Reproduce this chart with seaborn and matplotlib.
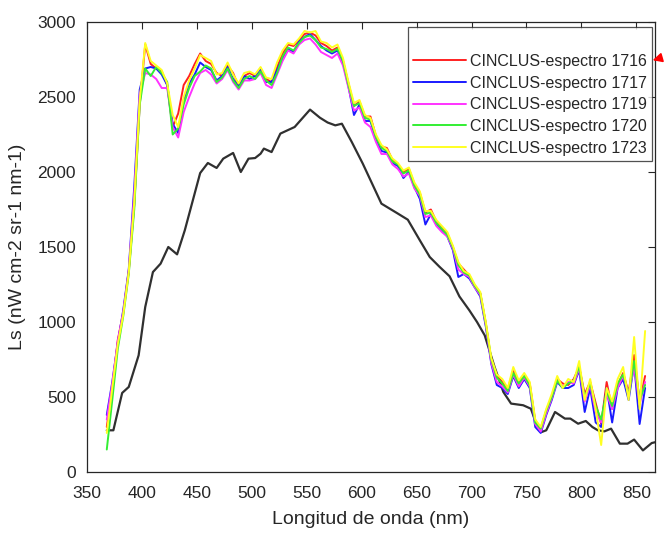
import matplotlib
matplotlib.use("Agg")
import matplotlib.pyplot as plt
import seaborn as sns
import pandas as pd

# -------------------------------
# Datos
# -------------------------------
wavelength = [368, 373, 378, 383, 388, 393, 398, 403, 408, 413, 418, 423, 428, 433, 438,
              443, 448, 453, 458, 463, 468, 473, 478, 483, 488, 493, 498, 503, 508, 513,
              518, 523, 528, 533, 538, 543, 548, 553, 558, 563, 568, 573, 578, 583, 588,
              593, 598, 603, 608, 613, 618, 623, 628, 633, 638, 643, 648, 653, 658, 663,
              668, 673, 678, 683, 688, 693, 698, 703, 708, 713, 718, 723, 728, 733, 738,
              743, 748, 753, 758, 763, 768, 773, 778, 783, 788, 793, 798, 803, 808, 813,
              818, 823, 828, 833, 838, 843, 848, 853, 858]

esp_1716 = [300, 560, 880, 1060, 1340, 1780, 2450, 2850, 2720, 2690, 2670, 2580, 2300, 2390, 2580,
            2640, 2720, 2790, 2740, 2720, 2660, 2640, 2710, 2660, 2570, 2640, 2660, 2640, 2690, 2620,
            2600, 2700, 2790, 2850, 2840, 2880, 2920, 2930, 2910, 2860, 2840, 2810, 2830, 2740, 2590,
            2440, 2470, 2370, 2370, 2240, 2170, 2160, 2080, 2050, 2000, 2020, 1920, 1860, 1730, 1750,
            1670, 1630, 1590, 1500, 1390, 1350, 1310, 1240, 1190, 990, 740, 640, 600, 550, 680,
            600, 640, 590, 340, 280, 400, 500, 620, 590, 580, 620, 700, 520, 600, 460,
            320, 600, 420, 580, 660, 530, 780, 470, 640]

esp_1717 = [380, 600, 860, 1080, 1350, 1900, 2550, 2690, 2700, 2690, 2650, 2580, 2320, 2260, 2480,
            2590, 2650, 2730, 2700, 2680, 2610, 2640, 2700, 2620, 2570, 2640, 2620, 2640, 2690, 2600,
            2600, 2680, 2760, 2820, 2800, 2870, 2900, 2920, 2880, 2840, 2810, 2790, 2810, 2730, 2570,
            2380, 2450, 2340, 2340, 2220, 2140, 2130, 2060, 2040, 1960, 2000, 1900, 1820, 1650, 1720,
            1650, 1610, 1570, 1480, 1300, 1320, 1290, 1230, 1170, 970, 720, 580, 560, 520, 640,
            560, 620, 560, 300, 260, 380, 480, 600, 560, 560, 580, 680, 400, 560, 330,
            300, 560, 330, 560, 620, 480, 720, 320, 560]

esp_1719 = [350, 590, 870, 1070, 1340, 1850, 2520, 2660, 2650, 2620, 2560, 2560, 2300, 2230, 2400,
            2500, 2590, 2660, 2680, 2650, 2590, 2620, 2680, 2600, 2550, 2610, 2610, 2620, 2660, 2580,
            2560, 2650, 2740, 2810, 2790, 2850, 2880, 2890, 2850, 2800, 2780, 2760, 2790, 2710, 2560,
            2410, 2430, 2330, 2300, 2200, 2120, 2120, 2050, 2020, 1970, 1990, 1890, 1840, 1700, 1710,
            1640, 1600, 1570, 1490, 1350, 1320, 1300, 1230, 1180, 980, 730, 600, 570, 530, 650,
            570, 630, 570, 320, 270, 390, 490, 610, 570, 600, 590, 690, 470, 580, 400,
            330, 520, 420, 560, 640, 520, 700, 450, 600]

esp_1720 = [150, 480, 820, 1040, 1320, 1750, 2450, 2690, 2640, 2700, 2660, 2600, 2250, 2290, 2450,
            2560, 2640, 2670, 2710, 2690, 2600, 2630, 2690, 2610, 2560, 2620, 2640, 2620, 2670, 2610,
            2580, 2660, 2770, 2830, 2810, 2860, 2900, 2910, 2880, 2830, 2820, 2800, 2820, 2740, 2580,
            2440, 2460, 2360, 2350, 2230, 2160, 2140, 2070, 2050, 1990, 2010, 1910, 1850, 1720, 1730,
            1660, 1620, 1580, 1500, 1380, 1330, 1310, 1240, 1190, 990, 750, 630, 590, 540, 660,
            590, 640, 580, 330, 290, 410, 500, 610, 560, 590, 610, 700, 500, 590, 440,
            350, 540, 440, 590, 650, 510, 740, 480, 580]

esp_1723 = [260, 560, 850, 1050, 1330, 1800, 2480, 2860, 2740, 2710, 2680, 2590, 2380, 2300, 2500,
            2610, 2690, 2780, 2760, 2740, 2650, 2660, 2730, 2650, 2590, 2660, 2670, 2650, 2700, 2630,
            2620, 2730, 2810, 2860, 2850, 2890, 2940, 2930, 2940, 2870, 2860, 2830, 2850, 2760, 2600,
            2460, 2480, 2380, 2360, 2250, 2180, 2150, 2090, 2060, 2010, 2030, 1930, 1870, 1740, 1740,
            1680, 1640, 1600, 1510, 1400, 1340, 1320, 1250, 1200, 1000, 760, 650, 620, 560, 700,
            610, 660, 600, 350, 300, 420, 520, 640, 560, 620, 600, 740, 480, 620, 420,
            180, 560, 470, 620, 700, 480, 900, 420, 940]

# curva de referencia (negra)
ref_x = [368, 374, 382, 388, 397, 403, 410, 417, 424, 432, 439, 453, 460, 468, 474,
         483, 490, 497, 503, 508, 511, 518, 526, 539, 553, 562, 569, 576, 582, 591,
         601, 618, 632, 642, 653, 662, 671, 680, 689, 698, 705, 712, 721, 729, 736,
         747, 754, 759, 764, 768, 776, 785, 790, 797, 804, 810, 815, 821, 827, 835,
         842, 848, 856, 864, 868]
ref_y = [278, 278, 527, 567, 778, 1100, 1333, 1389, 1500, 1451, 1611, 1993, 2060, 2027, 2089,
         2127, 2000, 2089, 2093, 2122, 2156, 2133, 2256, 2300, 2416, 2362, 2330, 2311, 2322, 2200,
         2056, 1789, 1727, 1682, 1544, 1433, 1367, 1305, 1170, 1078, 1000, 911, 700, 533, 456,
         445, 422, 322, 267, 278, 400, 356, 356, 322, 340, 300, 278, 271, 289, 189,
         189, 216, 144, 193, 200]

series = {
    "CINCLUS-espectro 1716": (esp_1716, "#ff2020"),
    "CINCLUS-espectro 1717": (esp_1717, "#1a1aff"),
    "CINCLUS-espectro 1719": (esp_1719, "#ff33ff"),
    "CINCLUS-espectro 1720": (esp_1720, "#33ee33"),
    "CINCLUS-espectro 1723": (esp_1723, "#ffff22"),
}

# -------------------------------
# Estilo tipo MATLAB
# -------------------------------
sns.set_style("white")
plt.rcParams['font.family'] = ['Liberation Sans', 'DejaVu Sans']
plt.rcParams['xtick.direction'] = 'in'
plt.rcParams['ytick.direction'] = 'in'
dark = "#262626"

fig = plt.figure(figsize=(6.64, 5.34), dpi=100)
ax = fig.add_axes([87 / 664, 62 / 534, 568 / 664, 450 / 534])

sns.lineplot(x=ref_x, y=ref_y, color="#303030", linewidth=1.6, ax=ax, legend=False)
for name, (vals, col) in series.items():
    sns.lineplot(x=wavelength, y=vals, color=col, linewidth=1.4, label=name, ax=ax)

ax.set_xlim(350, 867)
ax.set_ylim(0, 3000)
ax.set_xticks(range(350, 851, 50))
ax.set_yticks(range(0, 3001, 500))
ax.tick_params(axis='both', labelsize=12.5, colors=dark, length=5, width=0.8,
               top=True, right=True)
ax.tick_params(axis='x', pad=10)
ax.tick_params(axis='y', pad=8)
for s in ax.spines.values():
    s.set_color(dark)
    s.set_linewidth(0.9)

ax.set_xlabel("Longitud de onda (nm)", fontsize=14, color=dark, labelpad=7)
ax.set_ylabel("Ls (nW cm-2 sr-1 nm-1)", fontsize=14, color=dark, labelpad=8)

leg = ax.legend(loc='upper right', bbox_to_anchor=(0.994, 0.988), borderaxespad=0,
                title=" ", fontsize=11.5, title_fontsize=12.5, handlelength=3.3,
                handletextpad=0.25, labelspacing=0.42, borderpad=0.3,
                frameon=True, fancybox=False)
leg.get_frame().set_edgecolor(dark)
leg.get_frame().set_linewidth(0.9)
for t in leg.get_texts():
    t.set_color(dark)

# flecha roja junto a la leyenda
fig.patches.append(matplotlib.patches.FancyArrowPatch(
    (664 / 664, 1 - 57 / 534), (650 / 664, 1 - 61 / 534),
    transform=fig.transFigure, arrowstyle='-|>', mutation_scale=14,
    color='red', linewidth=1.2))

fig.savefig("out.png", dpi=100)
